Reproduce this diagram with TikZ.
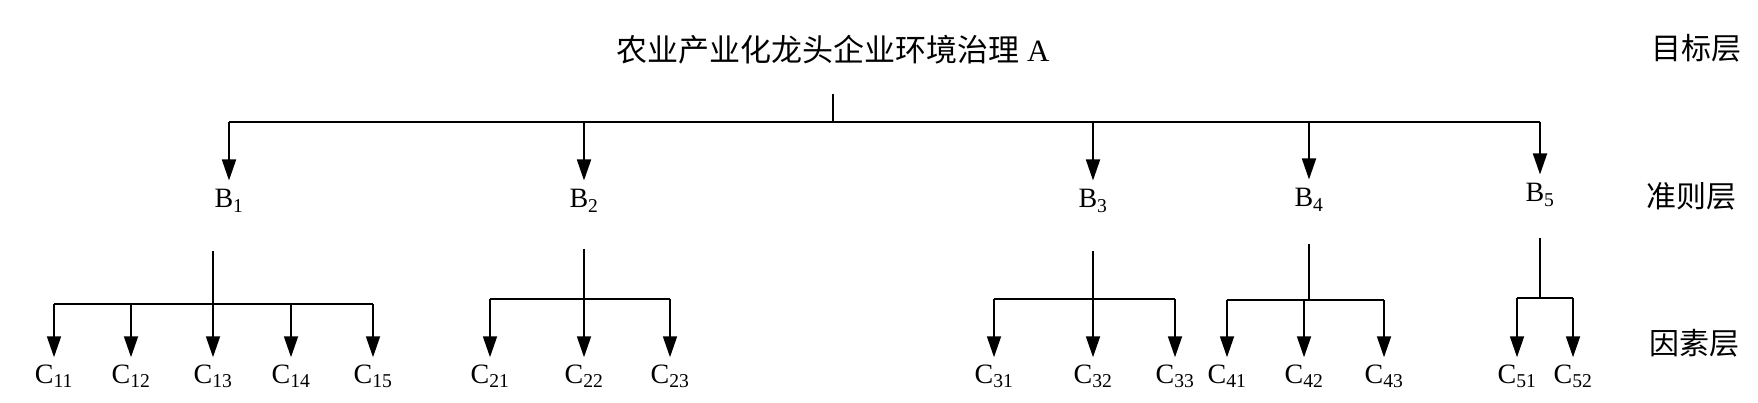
\documentclass[tikz,border=0pt]{standalone}
\usepackage{fontspec}
\setmainfont{Liberation Serif}
\newfontfamily\cjk{Noto Sans CJK SC}
\usetikzlibrary{arrows.meta}
\tikzstyle{edge} = [draw,line width=1.8pt,-{Triangle[length=21pt,width=14pt]}]
\tikzstyle{undirectededge} = [draw,line width=1.8pt]
\tikzstyle{blabel} = [anchor=base,inner sep=9pt,font=\fontsize{28}{30}\selectfont]
\tikzstyle{clabel} = [anchor=base,inner sep=7pt,font=\fontsize{28}{30}\selectfont]
\tikzstyle{layer} = [font=\cjk\fontsize{30}{32}\selectfont]

\begin{document}
\begin{tikzpicture}[x=1pt,y=-1pt]

  \useasboundingbox (0,0) rectangle (1758,403);

  % goal
  \node[font=\fontsize{31}{33}\selectfont] (A) at (833,50) {{\cjk 农业产业化龙头企业环境治理} A};
  \coordinate (Atop) at (833,94);
  \coordinate (Abar) at (833,122);

  % criteria
  \foreach \x/\y/\name/\label in {229/208/B1/1, 584/208/B2/2, 1093/208/B3/3, 1309/207/B4/4, 1540/202/B5/5}
         \node[blabel] (\name) at (\x,\y) {B\textsubscript{\label}};

  % factors
  \foreach \x/\name/\label in {54/C11/11, 131/C12/12, 213/C13/13, 291/C14/14, 373/C15/15,
                               490/C21/21, 584/C22/22, 670/C23/23,
                               994/C31/31, 1093/C32/32, 1175/C33/33,
                               1227/C41/41, 1304/C42/42, 1384/C43/43,
                               1517/C51/51, 1573/C52/52}
         \node[clabel] (\name) at (\x,383) {C\textsubscript{\label}};

  \foreach \name/\x/\ya/\yb in {J1/213/251/304, J2/584/249/299, J3/1093/251/299, J4/1309/244/300, J5/1540/238/298}
  {
         \coordinate (\name top) at (\x,\ya);
         \coordinate (\name) at (\x,\yb);
  }

  % A -> B
  \path[undirectededge] (Atop) -- (Abar);
  \path[undirectededge] (B1 |- Abar) -- (B5 |- Abar);
  \foreach \name in {B1,B2,B3,B4,B5}
         \path[edge] (\name |- Abar) -- (\name.north);

  % B -> C
  \foreach \j/\first/\last in {J1/C11/C15, J2/C21/C23, J3/C31/C33, J4/C41/C43, J5/C51/C52}
  {
         \path[undirectededge] (\j top) -- (\j);
         \path[undirectededge] (\first |- \j) -- (\last |- \j);
  }
  \foreach \j/\dest in {J1/C11, J1/C12, J1/C13, J1/C14, J1/C15, J2/C21, J2/C22, J2/C23,
                        J3/C31, J3/C32, J3/C33, J4/C41, J4/C42, J4/C43, J5/C51, J5/C52}
         \path[edge] (\dest |- \j) -- (\dest.north);

  % layers
  \node[layer] (goal) at (1696,48) {目标层};
  \node[layer] (crit) at (1691,196) {准则层};
  \node[layer] (fact) at (1694,343) {因素层};

\end{tikzpicture}
\end{document}
